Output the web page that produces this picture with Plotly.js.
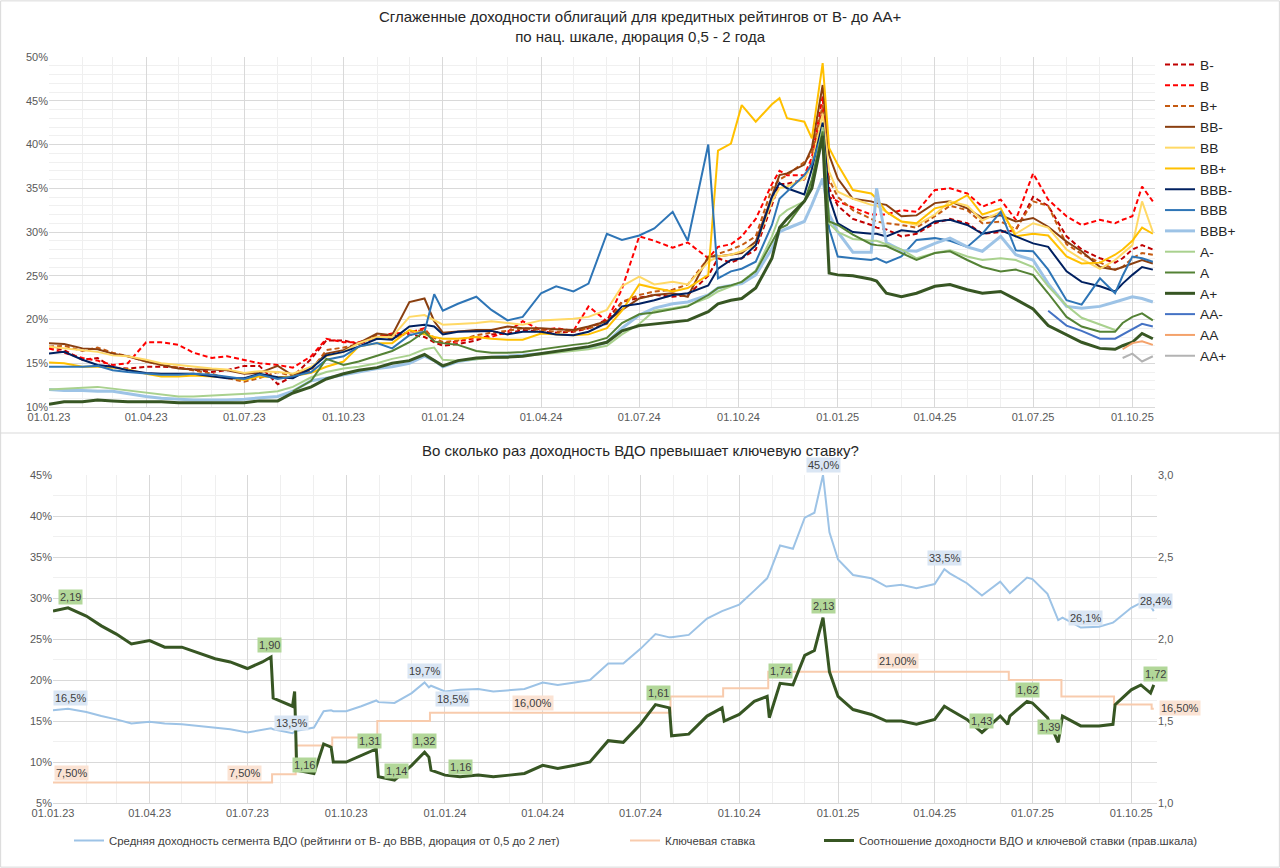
<!DOCTYPE html>
<html>
<head>
<meta charset="utf-8">
<script src="https://cdn.plot.ly/plotly-3.0.1.min.js"></script>
<style>
html,body{margin:0;padding:0;background:#ffffff;}
#chart{width:1280px;height:868px;}
</style>
</head>
<body>
<div id="chart"></div>
<script>
// ---------------- TOP CHART DATA ----------------
const dates = [
'2023-01-01','2023-01-15','2023-02-01','2023-02-15','2023-03-01','2023-03-15','2023-04-01','2023-04-15','2023-05-01','2023-05-15','2023-06-01','2023-06-15','2023-07-01','2023-07-15','2023-08-01','2023-08-15','2023-09-01','2023-09-15','2023-10-01','2023-10-15','2023-11-01','2023-11-15','2023-12-01','2023-12-15','2023-12-24',
'2024-01-01','2024-01-15','2024-02-01','2024-02-15','2024-03-01','2024-03-15','2024-04-01','2024-04-15','2024-05-01','2024-05-15','2024-06-01','2024-06-15','2024-07-01','2024-07-15','2024-08-01','2024-08-15',
'2024-09-03','2024-09-12','2024-09-24','2024-10-04','2024-10-17','2024-11-01','2024-11-08','2024-11-15','2024-12-01','2024-12-08','2024-12-18','2024-12-24',
'2025-01-01','2025-01-15','2025-02-01','2025-02-06','2025-02-15','2025-03-01','2025-03-15','2025-04-01','2025-04-15','2025-05-01','2025-05-15','2025-06-01','2025-06-15','2025-07-01','2025-07-15','2025-08-01','2025-08-15','2025-09-01','2025-09-15','2025-09-22','2025-10-01','2025-10-10','2025-10-20'
];

const ratingNames = ['B-','B','B+','BB-','BB','BB+','BBB-','BBB','BBB+','A-','A','A+','AA-','AA','AA+'];

const yBminus = [16.9,16.5,15.4,15.6,14.5,14.4,14.6,14.6,14.5,14.3,14.0,14.2,14.7,14.7,12.6,13.5,15.5,17.6,17.6,17.2,18.0,18.2,18.3,18.0,17.4,
 17.0,17.2,17.6,18.3,18.4,18.8,18.6,18.5,18.6,19.0,20.0,22.0,22.5,22.8,22.6,22.8,
 25.0,27.0,26.5,27.0,28.0,33.0,35.5,35.5,36.0,38.0,44.0,35.0,
 33.0,31.5,30.8,30.5,30.3,29.5,29.8,31.0,31.5,31.0,29.8,30.0,30.2,34.0,33.0,29.5,28.0,27.0,26.5,27.0,28.0,28.5,28.0];

const yB = [16.7,16.2,15.6,15.3,14.8,15.0,17.4,17.4,17.1,16.2,15.6,15.8,15.4,15.0,14.8,14.5,15.8,17.8,17.4,17.4,18.0,18.4,18.5,19.0,17.5,
 17.3,17.5,17.9,18.0,18.6,19.8,18.8,19.0,18.7,21.5,19.8,23.5,29.5,29.0,28.2,28.8,
 27.0,28.3,28.6,29.5,31.5,35.5,37.0,36.5,36.5,38.5,45.5,34.0,
 33.5,32.8,32.0,32.0,32.0,32.5,32.3,34.8,35.0,34.4,32.9,33.7,31.4,36.7,33.7,31.8,30.8,31.4,31.0,31.4,31.8,35.2,33.5];

const yBplus = [16.9,17.0,16.4,16.8,16.2,15.8,15.2,14.8,14.5,14.2,13.8,13.3,12.9,13.3,14.0,13.5,14.2,16.5,16.8,17.2,18.2,17.8,18.6,18.8,17.9,
 17.4,17.6,18.2,18.5,18.7,19.0,18.8,18.6,18.7,19.0,19.5,22.0,22.8,23.2,23.4,24.0,
 27.0,27.5,28.0,28.5,29.5,35.0,36.0,36.5,38.0,39.0,44.5,36.0,
 34.0,32.5,31.5,31.2,31.0,30.8,30.5,31.8,33.0,32.5,31.0,31.2,30.3,33.5,33.0,28.6,27.5,26.5,25.7,26.0,27.0,27.6,27.4];

const yBBminus = [17.3,17.2,16.7,16.6,16.1,15.8,15.2,14.8,14.4,14.3,14.3,14.2,13.8,13.9,14.7,13.6,14.4,16.1,16.5,17.3,18.4,18.2,22.0,22.4,19.8,
 18.5,18.6,18.8,18.8,19.2,19.0,19.0,18.9,18.8,19.2,19.8,21.1,22.4,22.8,23.0,22.6,
 27.2,27.2,27.4,27.6,28.9,34.2,36.5,36.7,37.7,39.6,46.8,38.8,
 36.1,33.8,33.5,33.3,33.1,31.8,31.9,33.3,33.5,32.7,31.6,31.9,31.2,31.6,30.6,28.9,27.8,26.0,25.7,26.0,26.4,26.8,26.4];

const yBB = [16.9,16.7,16.5,16.3,15.9,15.8,15.4,15.0,14.8,14.6,14.4,14.3,13.9,14.1,14.0,13.8,14.6,15.8,16.3,17.3,18.0,18.0,20.3,20.5,19.9,
 19.4,19.5,19.6,19.8,19.6,19.4,19.9,20.0,20.1,20.3,21.1,23.8,24.9,24.0,24.3,24.0,
 26.6,27.2,27.4,27.8,28.5,33.5,35.0,35.2,36.1,37.7,43.5,36.9,
 34.6,33.8,33.1,33.0,32.3,31.2,30.8,32.0,33.5,33.0,31.3,32.3,29.8,31.0,30.5,28.0,26.9,25.8,26.8,27.5,28.5,33.5,30.0];

const yBBplus = [15.1,15.0,14.6,14.6,14.5,14.3,13.8,13.5,13.5,13.6,13.5,13.4,13.1,13.5,13.4,13.5,13.9,14.6,15.2,16.9,17.3,17.3,18.8,18.3,18.0,
 17.8,17.8,18.0,17.8,17.7,17.7,18.4,18.3,18.2,18.3,19.0,21.0,24.0,23.6,23.2,23.6,
 25.1,39.3,40.1,44.5,42.6,44.6,45.3,43.0,42.6,40.7,49.3,39.6,
 37.7,34.8,34.4,33.8,32.3,31.2,31.0,32.7,33.1,34.2,32.0,32.7,29.5,29.8,29.6,27.2,26.4,26.5,27.4,28.0,29.0,30.5,29.8];

const yBBBminus = [16.1,16.3,15.4,14.8,14.6,14.2,13.9,13.8,13.8,13.8,13.5,13.3,13.3,13.8,13.4,13.3,14.4,15.9,16.3,16.9,17.8,17.7,19.2,19.4,19.2,
 18.3,18.6,18.7,18.7,18.3,18.6,18.6,18.3,18.2,18.6,19.6,21.5,21.8,22.2,22.8,23.0,
 23.9,25.8,26.8,27.0,28.5,34.0,35.6,35.0,34.3,37.2,42.5,34.0,
 31.0,30.0,29.8,29.8,29.5,30.2,30.0,31.2,31.4,30.8,29.8,30.2,29.5,28.7,28.3,25.5,24.3,23.8,23.2,24.1,25.1,26.0,25.7];

const yBBB = [14.6,14.6,14.6,14.7,14.2,14.0,13.8,13.7,13.7,13.8,13.7,13.5,13.2,13.7,13.2,13.5,14.0,15.4,15.8,16.9,17.3,16.7,18.2,18.6,22.9,
 21.0,21.8,22.6,21.1,19.9,20.3,23.0,23.8,23.2,24.1,29.8,29.1,29.6,30.4,32.3,29.0,
 40.0,24.7,25.5,25.8,26.6,30.8,33.8,34.6,36.5,37.7,41.5,30.4,
 27.2,27.0,26.8,27.0,26.5,27.2,29.1,29.3,29.0,28.3,29.8,32.3,27.9,27.8,25.7,22.2,21.7,24.7,23.0,25.0,27.2,27.0,26.6];

const yBBBplus = [12.0,11.9,11.9,11.8,11.8,11.5,11.2,11.0,10.9,10.8,10.8,10.8,10.9,11.0,11.2,11.8,13.0,13.3,13.7,14.0,14.4,14.6,15.0,15.8,15.3,
 14.6,15.2,15.5,15.7,15.8,15.9,16.1,16.3,16.6,16.8,17.4,19.0,20.5,21.3,21.8,22.0,
 22.8,23.6,23.9,24.1,25.1,28.1,30.0,30.4,31.2,33.1,36.1,32.0,
 30.0,27.7,27.7,35.0,28.8,27.9,27.8,28.7,29.3,28.3,27.8,29.5,27.4,26.8,24.1,21.5,21.3,21.5,22.0,22.3,22.6,22.4,22.0];

// A- series ends mid-September 2025 (first 72 dates)
const yAminus = [12.0,12.1,12.2,12.3,12.1,11.9,11.6,11.4,11.2,11.2,11.3,11.4,11.5,11.6,11.8,12.3,13.4,14.0,14.4,14.6,15.0,15.5,15.9,16.6,16.8,
 15.4,15.3,15.5,15.6,15.7,15.8,16.0,16.2,16.4,16.6,17.0,18.3,19.5,21.0,21.3,21.6,
 22.5,23.2,23.8,24.3,25.6,29.5,31.8,32.5,33.5,35.5,42.0,31.0,
 30.0,29.2,29.0,29.0,28.6,28.0,27.0,27.6,27.9,27.2,26.8,27.0,26.8,26.0,23.8,21.6,20.2,19.4,18.8];

// A series starts mid-August 2023 (last 61 dates)
const yA = [11.8,13.0,15.5,14.8,15.2,15.9,16.4,17.4,18.6,17.5,
 17.3,17.1,16.4,16.2,16.2,16.3,16.6,16.9,17.1,17.3,17.9,19.6,20.6,20.8,21.2,21.5,
 22.8,23.6,23.9,24.3,25.5,28.9,30.4,30.8,33.5,36.0,41.5,31.2,
 30.8,29.7,28.6,28.5,28.4,27.6,26.8,27.6,27.8,26.8,26.0,25.5,25.7,25.1,23.0,20.3,19.2,18.6,18.6,19.6,20.3,20.7,19.9];

const yAplus = [10.3,10.6,10.6,10.8,10.7,10.6,10.6,10.6,10.5,10.5,10.5,10.5,10.5,10.7,10.7,11.6,12.3,13.2,13.8,14.2,14.5,15.0,15.3,16.0,15.3,
 14.7,15.3,15.6,15.7,15.7,15.8,16.1,16.3,16.6,16.9,17.4,18.7,19.3,19.5,19.7,19.9,
 20.9,21.8,22.2,22.4,23.6,27.0,30.5,31.5,33.5,35.0,41.0,25.3,
 25.1,25.0,24.6,24.4,23.0,22.6,23.0,23.8,24.0,23.4,23.0,23.2,22.3,21.2,19.3,18.3,17.4,16.7,16.6,17.0,17.4,18.4,17.8];

// late-starting series (aligned to the last dates)
const yAAminus = [21.0,19.3,18.7,17.8,17.8,18.3,18.9,19.5,19.2];
const yAA = [16.6,17.3,17.5,17.1];
const yAAplus = [15.6,16.1,15.2,15.8];

// ---------------- BOTTOM CHART DATA ----------------
const dates2 = [
'2023-01-01','2023-01-15','2023-02-01','2023-02-15','2023-03-01','2023-03-15','2023-04-01','2023-04-15','2023-05-01','2023-05-15',
'2023-06-01','2023-06-15','2023-07-01','2023-07-15','2023-07-23','2023-07-25','2023-08-01','2023-08-12','2023-08-14','2023-08-16',
'2023-09-01','2023-09-10','2023-09-17','2023-09-19','2023-10-01','2023-10-15','2023-10-29','2023-10-31','2023-11-15','2023-12-01',
'2023-12-13','2023-12-17','2023-12-19','2024-01-01','2024-01-15','2024-02-01','2024-02-15','2024-03-01','2024-03-15','2024-04-01',
'2024-04-15','2024-05-01','2024-05-15','2024-06-01','2024-06-15','2024-07-01','2024-07-15','2024-07-28','2024-07-30','2024-08-15',
'2024-09-01','2024-09-15','2024-09-17','2024-10-01','2024-10-15','2024-10-27','2024-10-29','2024-11-08','2024-11-20','2024-12-01',
'2024-12-10','2024-12-18','2024-12-24','2025-01-01','2025-01-15','2025-02-01','2025-02-15','2025-03-01','2025-03-15','2025-04-01',
'2025-04-10','2025-04-15','2025-05-01','2025-05-15','2025-06-01','2025-06-08','2025-06-10','2025-06-26','2025-07-01','2025-07-15',
'2025-07-25','2025-07-29','2025-08-15','2025-09-01','2025-09-14','2025-09-16','2025-10-01','2025-10-10','2025-10-19','2025-10-22'
];

const avgYield = [
16.3,16.5,16.1,15.6,15.2,14.7,14.9,14.7,14.6,14.4,
14.2,14.0,13.6,13.9,14.1,14.0,13.8,13.5,13.7,13.8,
14.2,16.2,16.3,16.2,16.2,16.8,17.5,17.3,17.2,18.4,
19.7,19.1,19.3,18.6,18.8,18.9,18.6,18.8,18.9,19.7,
19.4,19.7,20.0,22.0,22.0,23.8,25.6,25.2,25.2,25.5,
27.5,28.4,28.5,29.2,30.9,32.4,33.0,36.4,36.0,39.8,
40.4,45.0,38.0,34.7,32.8,32.4,31.4,31.6,31.2,31.7,
33.5,33.0,31.8,30.3,32.0,31.0,30.6,32.5,32.3,30.5,
27.3,27.6,26.4,26.5,27.0,27.2,28.8,29.4,29.0,28.4
];

const ratio = [
2.17,2.19,2.14,2.08,2.03,1.97,1.99,1.95,1.95,1.92,
1.88,1.86,1.82,1.86,1.89,1.64,1.62,1.59,1.68,1.20,
1.18,1.36,1.34,1.25,1.25,1.29,1.33,1.16,1.14,1.23,
1.31,1.28,1.20,1.17,1.16,1.17,1.16,1.17,1.18,1.23,
1.21,1.23,1.25,1.38,1.37,1.48,1.60,1.58,1.41,1.42,
1.53,1.58,1.50,1.54,1.62,1.65,1.52,1.73,1.72,1.90,
1.93,2.13,1.80,1.65,1.57,1.54,1.50,1.50,1.48,1.51,
1.59,1.57,1.51,1.43,1.53,1.48,1.53,1.62,1.61,1.52,
1.37,1.53,1.47,1.47,1.48,1.60,1.69,1.72,1.67,1.72
];

const keyDates = ['2023-01-01','2023-07-24','2023-08-15','2023-09-18','2023-10-30','2023-12-18','2024-07-29','2024-09-16','2024-10-28','2025-06-09','2025-07-28','2025-09-15','2025-10-20','2025-10-22'];
const keyRate  = [7.5,8.5,12,13,15,16,18,19,21,20,18,17,16.5,16.5];

const seriesNames2 = [
 'Средняя доходность сегмента ВДО (рейтинги от B- до BBB, дюрация от 0,5 до 2 лет)',
 'Ключевая ставка',
 'Соотношение доходности ВДО и ключевой ставки (прав.шкала)'
];

// data labels: [date, text]
const avgLabelData = [['2023-01-15','16,5%'],['2023-08-12','13,5%'],['2023-12-13','19,7%'],['2024-01-01','18,5%'],['2024-12-18','45,0%'],['2025-04-10','33,5%'],['2025-08-15','26,1%'],['2025-10-22','28,4%']];
const ratioLabelData = [['2023-01-15','2,19'],['2023-07-23','1,90'],['2023-09-01','1,16'],['2023-10-29','1,31'],['2023-11-15','1,14'],['2023-12-13','1,32'],['2024-01-15','1,16'],['2024-07-15','1,61'],['2024-11-08','1,74'],['2024-12-18','2,13'],['2025-05-15','1,43'],['2025-06-26','1,62'],['2025-07-25','1,39'],['2025-10-22','1,72']];
const keyLabelData = [['2023-01-18','7,50%'],['2023-06-28','7,50%'],['2024-03-23','16,00%'],['2025-02-26','21,00%'],['2025-10-22','16,50%']];

// ---------------- STYLE ----------------
const FONT = 'Liberation Sans, Arial, Helvetica, sans-serif';
const topStyles = [
 {c:'#c00000', w:2, d:'5px,3px'},
 {c:'#ff0000', w:2, d:'5px,3px'},
 {c:'#c55a11', w:2, d:'5px,3px'},
 {c:'#8a3f10', w:2, d:'solid'},
 {c:'#ffd966', w:2, d:'solid'},
 {c:'#ffc000', w:2, d:'solid'},
 {c:'#002060', w:2, d:'solid'},
 {c:'#2e75b6', w:2, d:'solid'},
 {c:'#9dc3e6', w:3, d:'solid'},
 {c:'#a9d18e', w:2, d:'solid'},
 {c:'#548235', w:2, d:'solid'},
 {c:'#375623', w:3, d:'solid'},
 {c:'#4472c4', w:2, d:'solid'},
 {c:'#f4a26b', w:2, d:'solid'},
 {c:'#b3b3b3', w:2, d:'solid'}
];
// alignment: 'start' = series begins at first date, else aligned to the last dates
const topSeries = [
 [yBminus,'start'],[yB,'start'],[yBplus,'start'],[yBBminus,'start'],[yBB,'start'],[yBBplus,'start'],
 [yBBBminus,'start'],[yBBB,'start'],[yBBBplus,'start'],[yAminus,'start'],[yA,'end'],[yAplus,'start'],
 [yAAminus,'end'],[yAA,'end'],[yAAplus,'end']
];

const traces = [];
topSeries.forEach(function(s, i){
  const ys = s[0];
  const xs = s[1] === 'start' ? dates.slice(0, ys.length) : dates.slice(dates.length - ys.length);
  traces.push({
    type:'scatter', mode:'lines', name: ratingNames[i], x: xs, y: ys,
    xaxis:'x', yaxis:'y', legend:'legend',
    line:{color: topStyles[i].c, width: topStyles[i].w, dash: topStyles[i].d}
  });
});

traces.push({type:'scatter', mode:'lines', name: seriesNames2[0], x: dates2, y: avgYield, xaxis:'x2', yaxis:'y2', legend:'legend2',
  line:{color:'#9dc3e6', width:2}});
traces.push({type:'scatter', mode:'lines', name: seriesNames2[1], x: keyDates, y: keyRate, xaxis:'x2', yaxis:'y2', legend:'legend3',
  line:{color:'#f8cbad', width:2, shape:'hv'}});
traces.push({type:'scatter', mode:'lines', name: seriesNames2[2], x: dates2, y: ratio, xaxis:'x2', yaxis:'y3', legend:'legend4',
  line:{color:'#375623', width:3}});

// ---------------- ANNOTATIONS ----------------
function valAt(ds, arr, d){ return arr[ds.indexOf(d)]; }
function keyAt(d){ let v = keyRate[0]; for(let i=0;i<keyDates.length;i++){ if(keyDates[i] <= d) v = keyRate[i]; } return v; }

const avgLabelShift = [[2,11],[-1,10],[0,11],[8,-8],[0,10],[0,11],[5,10],[2,10]];
const ratioLabelShift = [[2,11],[-2,12],[-9,8],[-7,8],[2,9],[0,11],[0,10],[3,12],[0,12],[0,12],[0,11],[0,11],[-9,15],[2,11]];
const keyLabelShift = [[0,10],[0,10],[0,10],[0,11],[26,1]];

const annotations = [];
const lblFont = {family: FONT, size: 11, color: '#404040'};
avgLabelData.forEach(function(l, i){
  annotations.push({xref:'x2', yref:'y2', x:l[0], y: valAt(dates2, avgYield, l[0]), text:l[1], showarrow:false,
    xshift: avgLabelShift[i][0], yshift: avgLabelShift[i][1], bgcolor:'#dae6f4', borderpad:1, font: lblFont});
});
ratioLabelData.forEach(function(l, i){
  annotations.push({xref:'x2', yref:'y3', x:l[0], y: valAt(dates2, ratio, l[0]), text:l[1], showarrow:false,
    xshift: ratioLabelShift[i][0], yshift: ratioLabelShift[i][1], bgcolor:'#b2d799', borderpad:1, font: lblFont});
});
keyLabelData.forEach(function(l, i){
  annotations.push({xref:'x2', yref:'y2', x:l[0], y: keyAt(l[0]), text:l[1], showarrow:false,
    xshift: keyLabelShift[i][0], yshift: keyLabelShift[i][1], bgcolor:'#fbe3d4', borderpad:1, font: lblFont});
});
annotations.push({xref:'paper', yref:'paper', x:0.5, y:1-26/868, xanchor:'center', yanchor:'middle', showarrow:false,
  text:'Сглаженные доходности облигаций для кредитных рейтингов от B- до AA+<br>по нац. шкале, дюрация 0,5 - 2 года',
  font:{family:FONT, size:15, color:'#262626'}});
annotations.push({xref:'paper', yref:'paper', x:0.5, y:1-450/868, xanchor:'center', yanchor:'middle', showarrow:false,
  text:'Во сколько раз доходность ВДО превышает ключевую ставку?',
  font:{family:FONT, size:15, color:'#262626'}});

const tickFont = {family: FONT, size: 11, color: '#595959'};
const xCommon = {type:'date', tick0:'2023-01-01', dtick:'M3', tickformat:'%d.%m.%y', showgrid:true, gridcolor:'#d9d9d9', gridwidth:1,
  minor:{dtick:'M1', showgrid:true, gridcolor:'#efefef', gridwidth:1}, showline:true, linecolor:'#d9d9d9', linewidth:1,
  ticks:'', tickfont: tickFont, zeroline:false, fixedrange:true};

const legendFont2 = {family:FONT, size:11.4, color:'#404040'};
const layout = {
  width:1280, height:868, margin:{l:0, r:0, t:0, b:0},
  paper_bgcolor:'#ffffff', plot_bgcolor:'#ffffff',
  font:{family:FONT, color:'#404040'}, separators:', ', showlegend:true,
  xaxis: Object.assign({}, xCommon, {domain:[49/1280, 1155/1280], anchor:'y', range:['2023-01-01','2025-10-22']}),
  yaxis: {domain:[1-407/868, 1-57/868], anchor:'x', range:[10,50], dtick:5, ticksuffix:'%', showgrid:true, gridcolor:'#d9d9d9',
    minor:{dtick:1, showgrid:true, gridcolor:'#f0f0f0'}, zeroline:false, ticks:'', tickfont: tickFont, fixedrange:true},
  xaxis2: Object.assign({}, xCommon, {domain:[53/1280, 1157/1280], anchor:'y2', range:['2023-01-01','2025-10-25']}),
  yaxis2: {domain:[1-803/868, 1-475/868], anchor:'x2', range:[5,45], dtick:5, ticksuffix:'%', showgrid:true, gridcolor:'#d9d9d9',
    minor:{dtick:2.5, showgrid:true, gridcolor:'#f0f0f0'}, zeroline:false, ticks:'', tickfont: tickFont, fixedrange:true},
  yaxis3: {overlaying:'y2', anchor:'x2', side:'right', range:[1,3], dtick:0.5, tickformat:'.1f', showgrid:false, zeroline:false,
    ticks:'', tickfont: tickFont, fixedrange:true},
  legend: {x:1160/1280, y:1-49/868, xanchor:'left', yanchor:'top', orientation:'v', bgcolor:'rgba(0,0,0,0)', borderwidth:0,
    itemwidth:30, tracegroupgap:0, font:{family:FONT, size:13.7, color:'#262626'}},
  legend2: {x:69/1280, y:1-826/868, xanchor:'left', yanchor:'top', orientation:'h', bgcolor:'rgba(0,0,0,0)', itemwidth:30, font: legendFont2},
  legend3: {x:625/1280, y:1-826/868, xanchor:'left', yanchor:'top', orientation:'h', bgcolor:'rgba(0,0,0,0)', itemwidth:30, font: legendFont2},
  legend4: {x:819/1280, y:1-826/868, xanchor:'left', yanchor:'top', orientation:'h', bgcolor:'rgba(0,0,0,0)', itemwidth:30, font: legendFont2},
  annotations: annotations,
  shapes: [
    {type:'line', xref:'paper', yref:'paper', x0:0, x1:1, y0:1-433/868, y1:1-433/868, line:{color:'#d9d9d9', width:1}},
    {type:'rect', xref:'paper', yref:'paper', x0:0.0005, x1:0.9995, y0:0.001, y1:0.999, line:{color:'#d9d9d9', width:1}}
  ]
};

Plotly.newPlot('chart', traces, layout, {staticPlot:true, displayModeBar:false});
</script>
</body>
</html>
